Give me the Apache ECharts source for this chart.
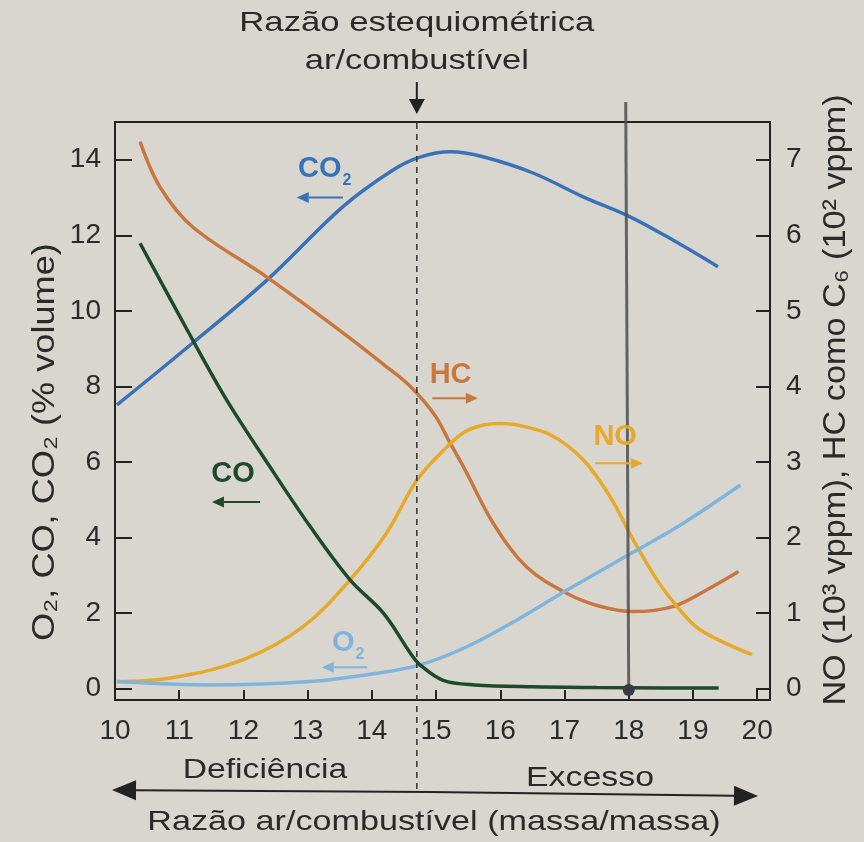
<!DOCTYPE html>
<html><head><meta charset="utf-8">
<script src="https://cdn.jsdelivr.net/npm/echarts@6/dist/echarts.min.js"></script>
<style>html,body{margin:0;padding:0;background:#d9d6d0;}#c{width:864px;height:842px;}</style>
</head><body><div id="c"></div>
<script>
// ---- data (x = razão ar/combustível) ----
const xTicks = [10,11,12,13,14,15,16,17,18,19,20];
const leftTicks = [0,2,4,6,8,10,12,14];
const rightTicks = [0,1,2,3,4,5,6,7];
const stoich = 14.7;

// left axis (% volume)
const co2X = [10.03, 11.21, 12.37, 13.55, 14.33, 14.75, 15.22, 15.73, 16.51, 17.29, 18.02, 18.60, 19.39];
const co2Y = [7.51, 9.15, 10.82, 12.76, 13.73, 14.07, 14.21, 14.08, 13.65, 13.02, 12.49, 11.96, 11.17];
const coX = [10.39, 11.21, 11.74, 12.41, 13.04, 13.66, 14.18, 14.60, 14.75, 15.11, 15.6, 16.5, 17.5, 18.5, 19.4];
const coY = [11.79, 9.23, 7.64, 5.88, 4.29, 2.88, 2.00, 0.94, 0.63, 0.22, 0.10, 0.05, 0.03, 0.02, 0.02];
const o2X = [10.03, 11.48, 13.04, 14.08, 14.75, 15.48, 16.26, 17.04, 18.13, 18.85, 19.74];
const o2Y = [0.19, 0.10, 0.19, 0.41, 0.63, 1.11, 1.82, 2.61, 3.67, 4.38, 5.39];
// right axis (NO 10^3 vppm, HC 10^2 vppm)
const hcX = [10.39, 10.70, 11.21, 12.36, 13.55, 14.20, 14.60, 14.98, 15.22, 15.45, 15.89, 16.41, 17.04, 17.55, 18.07, 18.70, 19.22, 19.71];
const hcY = [7.24, 6.64, 6.11, 5.45, 4.71, 4.28, 4.00, 3.62, 3.25, 2.90, 2.19, 1.61, 1.26, 1.09, 1.02, 1.09, 1.31, 1.55];
const noX = [10.03, 10.86, 11.99, 12.93, 13.66, 14.23, 14.70, 15.17, 15.45, 15.74, 16.00, 16.26, 16.78, 17.29, 17.71, 18.07, 18.44, 18.75, 19.11, 19.92];
const noY = [0.09, 0.14, 0.38, 0.82, 1.44, 2.06, 2.76, 3.20, 3.40, 3.49, 3.51, 3.49, 3.36, 3.03, 2.54, 1.97, 1.44, 1.09, 0.78, 0.45];

const zip = (a, b) => a.map((v, i) => [v, b[i]]);
const TXT = '#2a2a2a';
const FONT = 'Liberation Sans, Arial, sans-serif';
const C = {co2:'#3a72b8', co:'#1d4a2b', o2:'#7fb5dc', hc:'#c8783f', no:'#e6a92a'};

const chart = echarts.init(document.getElementById('c'));
const lineSeries = (name, data, color, yi) => ({
  name, type:'line', data, yAxisIndex: yi, smooth: 0.35, symbol:'none',
  lineStyle:{color, width:3.5}, z: 3
});
chart.setOption({
  backgroundColor:'#d9d6d0',
  animation:false,
  textStyle:{fontFamily:FONT},
  grid:{left:115, top:122, width:655, height:578, show:true, borderColor:'#222', borderWidth:2, backgroundColor:'transparent', outerBoundsMode:'none'},
  xAxis:{type:'value', min:10, max:20.2, splitLine:{show:false},
    axisLine:{onZero:false, lineStyle:{color:'#222', width:2}},
    axisTick:{inside:true, length:10, lineStyle:{color:'#222', width:2}, customValues:xTicks},
    axisLabel:{color:TXT, fontSize:28, margin:17, fontFamily:FONT, customValues:xTicks}},
  yAxis:[
    {type:'value', min:-0.3, max:15, position:'left', splitLine:{show:false},
     axisLine:{show:true, onZero:false, lineStyle:{color:'#222', width:2}},
     axisTick:{show:true, inside:true, length:17, lineStyle:{color:'#222', width:2}, customValues:leftTicks},
     axisLabel:{color:TXT, fontSize:28, margin:14, fontFamily:FONT, customValues:leftTicks}},
    {type:'value', min:-0.15, max:7.5, position:'right', splitLine:{show:false},
     axisLine:{show:true, onZero:false, lineStyle:{color:'#222', width:2}},
     axisTick:{show:true, inside:true, length:14, lineStyle:{color:'#222', width:2}, customValues:rightTicks},
     axisLabel:{color:TXT, fontSize:28, margin:16, fontFamily:FONT, customValues:rightTicks}}
  ],
  series:[
    lineSeries('CO2', zip(co2X, co2Y), C.co2, 0),
    lineSeries('HC', zip(hcX, hcY), C.hc, 1),
    lineSeries('NO', zip(noX, noY), C.no, 1),
    lineSeries('O2', zip(o2X, o2Y), C.o2, 0),
    lineSeries('CO', zip(coX, coY), C.co, 0)
  ]
});

const px = x => chart.convertToPixel({xAxisIndex:0}, x);
const py = y => chart.convertToPixel({yAxisIndex:0}, y);
const g = [];
function arrow(x1, y1, x2, y2, color, w, hl, hw) {
  const dx = x2 - x1, dy = y2 - y1, L = Math.hypot(dx, dy), ux = dx / L, uy = dy / L;
  const bx = x2 - ux * hl, by = y2 - uy * hl;
  g.push({type:'line', shape:{x1, y1, x2:bx, y2:by}, style:{stroke:color, lineWidth:w}, z:20});
  g.push({type:'polygon', shape:{points:[[x2, y2], [bx - uy * hw / 2, by + ux * hw / 2], [bx + uy * hw / 2, by - ux * hw / 2]]}, style:{fill:color}, z:20});
}
function text(t, x, y, size, color, sx, rot) {
  g.push({type:'text', x, y, z:20, scaleX:sx || 1, rotation:rot || 0,
    style:{text:t, fill:color, font:`${size}px ${FONT}`, textAlign:'center', textVerticalAlign:'middle'}});
}
// plot-label with subscript
function label(main, sub, xd, yd, color, dir, ax0, ax1, ay) {
  const X = px(xd), Y = py(yd);
  g.push({type:'text', x:X, y:Y, z:20, style:{text: sub ? `{a|${main}}{s|${sub}}` : `{a|${main}}`, textAlign:'left', textVerticalAlign:'middle',
    rich:{a:{fontSize:29, fontWeight:'bold', fill:color, fontFamily:FONT, lineHeight:34},
          s:{fontSize:16, fontWeight:'bold', fill:color, fontFamily:FONT, padding:[22,0,0,1]}}}});
  const a0 = px(ax0), a1 = px(ax1), yy = py(ay);
  if (dir < 0) arrow(a1, yy, a0, yy, color, 2, 12, 11); else arrow(a0, yy, a1, yy, color, 2, 12, 11);
}
label('CO', '2', 12.85, 13.75, C.co2, -1, 12.83, 13.55, 13.0);
label('HC', '', 14.9, 8.3, C.hc, 1, 14.94, 15.65, 7.69);
label('CO', '', 11.5, 5.68, C.co, -1, 11.51, 12.26, 4.94);
label('O', '2', 13.38, 1.2, C.o2, -1, 13.22, 13.93, 0.57);
label('NO', '', 17.45, 6.66, C.no, 1, 17.48, 18.22, 5.97);

// stoichiometric dashed line (extends below axis)
const sx = px(stoich);
g.push({type:'line', shape:{x1:sx, y1:123, x2:sx, y2:793}, style:{stroke:'#333', lineWidth:1.5, lineDash:[6,5]}, z:10});
// title + arrow
text('Razão estequiométrica', sx, 23, 28, TXT, 1.24);
text('ar/combustível', sx, 61, 28, TXT, 1.23);
arrow(sx, 82, sx, 114, '#222', 2, 15, 16);
// pencil mark at x = 18
const p18 = px(18);
g.push({type:'line', shape:{x1:p18 - 3, y1:102, x2:p18, y2:690}, style:{stroke:'#4d4d4f', lineWidth:3, opacity:0.85}, z:15});
g.push({type:'circle', shape:{cx:p18, cy:690, r:6}, style:{fill:'#3a3a44'}, z:15});
// bottom double arrow
arrow(430, 792, 112, 790, '#222', 2, 24, 20);
arrow(430, 792, 758, 796, '#222', 2, 24, 20);
text('Deficiência', 265, 770, 28, TXT, 1.2);
text('Excesso', 590, 778, 28, TXT, 1.21);
text('Razão ar/combustível (massa/massa)', 434, 822, 28, TXT, 1.22);
// axis names
text('O₂, CO, CO₂ (% volume)', 45, 442, 32, TXT, 1.13, Math.PI / 2);
text('NO (10³ vppm), HC como C₆ (10² vppm)', 836, 400, 32, TXT, 1.07, Math.PI / 2);
chart.setOption({graphic:g});
</script></body></html>
